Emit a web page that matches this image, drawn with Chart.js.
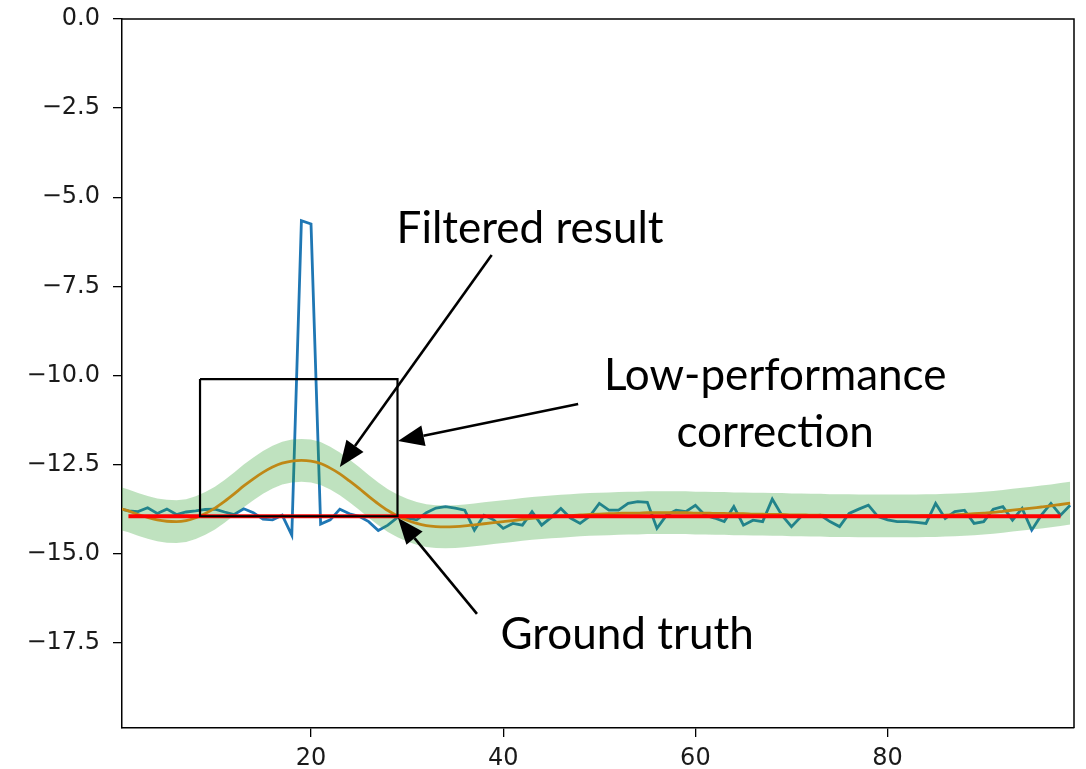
<!DOCTYPE html>
<html><head><meta charset="utf-8">
<script src="https://cdn.jsdelivr.net/npm/chart.js@4/dist/chart.umd.min.js"></script>
<style>html,body{margin:0;padding:0;background:#fff;}#wrap{width:1086px;height:769px;}</style>
</head><body><div id="wrap"><canvas id="c" width="1086" height="769"></canvas></div>
<script>
// ---- data ----
const measured = [ // blue: noisy measurement, one value per sample index 0..99
 -13.73,-13.80,-13.82,-13.71,-13.87,-13.75,-13.90,-13.83,-13.80,-13.76,
 -13.75,-13.83,-13.90,-13.74,-13.85,-14.03,-14.05,-13.92,-14.48,-5.66,
 -5.75,-14.17,-14.05,-13.75,-13.88,-13.95,-14.10,-14.35,-14.20,-13.98,
 -14.00,-14.05,-13.85,-13.72,-13.68,-13.72,-13.78,-14.34,-13.92,-14.05,
 -14.29,-14.15,-14.20,-13.82,-14.20,-13.98,-13.73,-14.00,-14.15,-13.95,
 -13.59,-13.78,-13.78,-13.59,-13.54,-13.56,-14.29,-13.92,-13.78,-13.82,
 -13.64,-13.92,-14.00,-14.10,-13.68,-14.20,-14.06,-14.10,-13.47,-13.92,
 -14.24,-13.96,-13.95,-13.92,-14.10,-14.24,-13.87,-13.75,-13.64,-13.96,
 -14.05,-14.10,-14.10,-14.12,-14.15,-13.59,-14.01,-13.82,-13.78,-14.15,
 -14.10,-13.75,-13.68,-14.06,-13.73,-14.34,-13.92,-13.59,-13.92,-13.64];
const filtered = [ // orange: filtered result
 -13.72,-13.80,-13.90,-13.98,-14.05,-14.09,-14.10,-14.07,-13.99,-13.87,
 -13.72,-13.53,-13.32,-13.10,-12.90,-12.72,-12.57,-12.46,-12.40,-12.38,
 -12.40,-12.47,-12.60,-12.76,-12.96,-13.17,-13.39,-13.60,-13.79,-13.94,
 -14.06,-14.15,-14.21,-14.24,-14.25,-14.24,-14.22,-14.19,-14.16,-14.13,
 -14.10,-14.07,-14.04,-14.01,-13.99,-13.97,-13.95,-13.93,-13.91,-13.90,
 -13.89,-13.88,-13.87,-13.86,-13.86,-13.85,-13.85,-13.85,-13.85,-13.85,
 -13.86,-13.86,-13.87,-13.87,-13.88,-13.88,-13.89,-13.89,-13.90,-13.90,
 -13.91,-13.91,-13.92,-13.92,-13.93,-13.93,-13.93,-13.94,-13.94,-13.94,
 -13.94,-13.94,-13.94,-13.94,-13.93,-13.93,-13.92,-13.91,-13.90,-13.88,
 -13.86,-13.84,-13.81,-13.78,-13.75,-13.72,-13.69,-13.66,-13.62,-13.58];
const bandHalfWidth = 0.6;          // uncertainty band around filtered result
const groundTruthX = [1, 98];
const groundTruthY = [-13.95, -13.95];
const boxX = [8.45, 29.0, 29.0, 8.45, 8.45];
const boxY = [-10.1, -10.1, -13.95, -13.95, -10.1];
const yTicks = [0, -2.5, -5, -7.5, -10, -12.5, -15, -17.5];
const xTicks = [20, 40, 60, 80];
const xRange = [0.33, 99.4];
const yRange = [-19.89, 0];

const labels = [
 {text:'Filtered result', x:42.8, y:-5.89},
 {text:'Low-performance', x:68.3, y:-10.02},
 {text:'correction', x:68.3, y:-11.62},
 {text:'Ground truth', x:52.9, y:-17.28}
];
const arrows = [
 {from:[38.8,-6.62], to:[23.0,-12.57]},
 {from:[47.8,-10.80], to:[29.05,-11.84]},
 {from:[37.27,-16.69], to:[29.05,-14.0]}
];

// ---- build ----
const idx = measured.map((v,i)=>i);
const pts = (xs, ys) => xs.map((x,i)=>({x:x, y:ys[i]}));
const upper = filtered.map(v=>v+bandHalfWidth);
const lower = filtered.map(v=>v-bandHalfWidth);

const fmt = v => { const s = Math.abs(v).toFixed(1); return (v < -1e-9 ? '\u2212' : '') + s; };

const framePlugin = {
  id:'frame',
  afterDraw(chart){
    const {ctx, chartArea:a, scales} = chart;
    const X = scales.x, Y = scales.y;
    ctx.save();
    ctx.strokeStyle = '#000'; ctx.lineWidth = 1.5;
    ctx.beginPath();
    ctx.moveTo(a.left, a.top); ctx.lineTo(a.right, a.top); ctx.lineTo(a.right, a.bottom);
    ctx.stroke();
    // arrows
    ctx.fillStyle = '#000'; ctx.strokeStyle = '#000'; ctx.lineWidth = 2.6;
    arrows.forEach(ar=>{
      const x0 = X.getPixelForValue(ar.from[0]), y0 = Y.getPixelForValue(ar.from[1]);
      const x1 = X.getPixelForValue(ar.to[0]), y1 = Y.getPixelForValue(ar.to[1]);
      const ang = Math.atan2(y1-y0, x1-x0);
      const hl = 26, hw = 10.5;
      const bx = x1 - hl*Math.cos(ang), by = y1 - hl*Math.sin(ang);
      ctx.beginPath(); ctx.moveTo(x0,y0); ctx.lineTo(bx,by); ctx.stroke();
      ctx.beginPath();
      ctx.moveTo(x1,y1);
      ctx.lineTo(bx + hw*Math.sin(ang), by - hw*Math.cos(ang));
      ctx.lineTo(bx - hw*Math.sin(ang), by + hw*Math.cos(ang));
      ctx.closePath(); ctx.fill();
    });
    ctx.font = '44px Lato';
    ctx.textAlign = 'center'; ctx.textBaseline = 'middle';
    labels.forEach(l=>{
      ctx.fillText(l.text, X.getPixelForValue(l.x), Y.getPixelForValue(l.y));
    });
    ctx.restore();
  }
};

new Chart(document.getElementById('c'), {
  type:'line',
  data:{datasets:[
    {label:'box', data:pts(boxX, boxY), borderColor:'#000', borderWidth:2.2, pointRadius:0, fill:false, order:0, tension:0},
    {label:'Ground truth', data:pts(groundTruthX, groundTruthY), borderColor:'#ff0000', borderWidth:3.8, pointRadius:0, fill:false, order:1},
    {label:'band upper', data:pts(idx, upper), borderWidth:0, pointRadius:0, backgroundColor:'rgba(44,160,44,0.3)', fill:'+1', order:2},
    {label:'band lower', data:pts(idx, lower), borderWidth:0, pointRadius:0, fill:false, order:3},
    {label:'Filtered', data:pts(idx, filtered), borderColor:'#ff7f0e', borderWidth:2.8, pointRadius:0, fill:false, order:4, cubicInterpolationMode:'monotone'},
    {label:'Measured', data:pts(idx, measured), borderColor:'#1f77b4', borderWidth:2.8, pointRadius:0, fill:false, order:5}
  ]},
  options:{
    responsive:false, animation:false, devicePixelRatio:1,
    layout:{autoPadding:false, padding:{top:19, right:12, left:0, bottom:0}},
    plugins:{legend:{display:false}, tooltip:{enabled:false}},
    scales:{
      x:{type:'linear', min:xRange[0], max:xRange[1],
         afterBuildTicks:s=>{s.ticks = xTicks.map(v=>({value:v}));},
         afterFit:s=>{s.height = 41; s.paddingLeft = 0; s.paddingRight = 0;},
         grid:{drawOnChartArea:false, drawTicks:true, tickLength:9, color:'#000', lineWidth:1.3},
         border:{display:true, color:'#000', width:1.5},
         ticks:{padding:7, color:'#1a1a1a', font:{family:'DejaVu Sans', size:24}, maxRotation:0, callback:v=>String(v)}},
      y:{type:'linear', min:yRange[0], max:yRange[1],
         afterBuildTicks:s=>{s.ticks = yTicks.map(v=>({value:v}));},
         afterFit:s=>{s.width = 122; s.paddingTop = 0; s.paddingBottom = 0;},
         grid:{drawOnChartArea:false, drawTicks:true, tickLength:9, color:'#000', lineWidth:1.3},
         border:{display:true, color:'#000', width:1.5},
         ticks:{padding:13, color:'#1a1a1a', font:{family:'DejaVu Sans', size:24}, callback:v=>fmt(v)}}
    }
  },
  plugins:[framePlugin]
});
</script></body></html>
